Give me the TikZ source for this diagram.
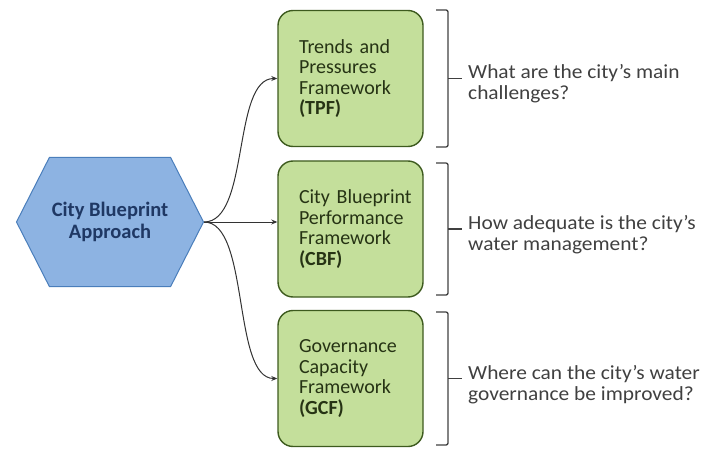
\documentclass[tikz,border=0pt]{standalone}
\usepackage{fontspec}
\setmainfont{Carlito}
\newfontfamily\qfont[FakeStretch=1.07]{Carlito}
\usetikzlibrary{arrows.meta,shapes.symbols}
\definecolor{hexfill}{HTML}{8DB3E2}
\definecolor{hexdraw}{HTML}{4A7EBB}
\definecolor{hextext}{HTML}{1F3864}
\definecolor{boxfill}{HTML}{C4DF9B}
\definecolor{boxdraw}{HTML}{3D5A1E}
\definecolor{boxtext}{HTML}{263314}
\definecolor{qtext}{HTML}{404040}
\tikzset{
  hexbox/.style={signal, signal to=east and west, signal pointer angle=126,
    fill=hexfill, draw=hexdraw, line width=1pt, minimum width=187pt, minimum height=129pt,
    inner sep=0pt, text=hextext, font=\fontsize{20.5}{21.5}\selectfont\bfseries, align=center},
  fwbox/.style={rectangle, rounded corners=15pt, fill=boxfill, draw=boxdraw, line width=1.4pt,
    minimum width=145pt, minimum height=136pt, inner xsep=21pt, inner ysep=0pt,
    text width=103pt, text=boxtext,
    font=\fontsize{20}{20.5}\selectfont, align=left},
  conn/.style={draw=black!80, line width=1pt, -{Stealth[length=6pt,width=5pt]}},
  brack/.style={draw=black!75, line width=1.3pt, rounded corners=2pt},
  question/.style={anchor=north west, inner sep=0pt, text=qtext,
    font=\qfont\fontsize{20}{20.5}\selectfont, align=left}
}
\begin{document}
\begin{tikzpicture}[x=1pt,y=-1pt]
\useasboundingbox (0,0) rectangle (709,449);
\node[hexbox] (hex) at (110,222) {City Blueprint\\Approach};
\node[fwbox] (tpf) at (350.5,78.5) {Trends~and\\Pressures\\Framework\\\textbf{(TPF)}};
\node[fwbox] (cbf) at (350.5,229) {City~Blueprint\\Performance\\Framework\\\textbf{(CBF)}};
\node[fwbox] (gcf) at (350.5,378.5) {Governance\\Capacity\\Framework\\\textbf{(GCF)}};
\draw[conn] (hex.east) .. controls (250,222) and (232,78.5) .. (tpf.west);
\draw[conn] (hex.east) -- (hex.east -| cbf.west);
\draw[conn] (hex.east) .. controls (250,222) and (232,378.5) .. (gcf.west);
% brackets
\coordinate (b1) at (462,78.5);
\coordinate (b2) at (462,229);
\coordinate (b3) at (462,378.5);
\draw[brack] (436,10) -- (448,10) -- (448,147) -- (436,147);
\draw[brack] (448,78.5) -- (b1);
\draw[brack] (436,163) -- (448,163) -- (448,295) -- (436,295);
\draw[brack] (448,229) -- (b2);
\draw[brack] (436,312) -- (448,312) -- (448,445) -- (436,445);
\draw[brack] (448,378.5) -- (b3);
\node[question] (q1) at (468,64.5) {What are the city’s main\\challenges?};
\node[question] (q2) at (468,215.5) {How adequate is the city’s\\water management?};
\node[question] (q3) at (468,365.5) {Where can the city’s water\\governance be improved?};
\end{tikzpicture}
\end{document}
